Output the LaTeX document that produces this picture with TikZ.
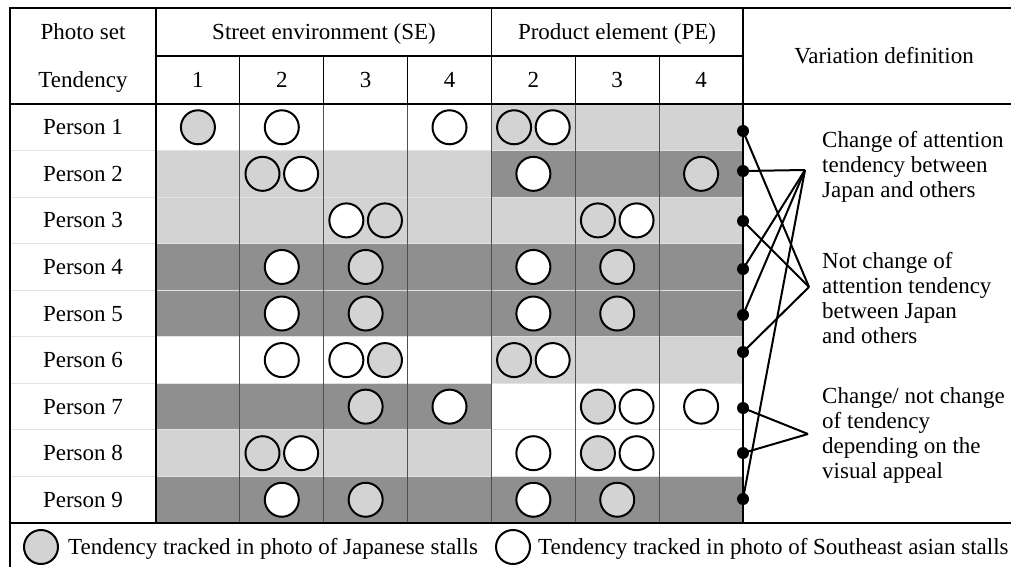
\documentclass[tikz,border=0pt]{standalone}
\usepackage{fontspec}
\setmainfont{Liberation Serif}
\definecolor{lightcell}{HTML}{D3D3D3}
\definecolor{darkcell}{HTML}{8F8F8F}
\definecolor{gridline}{HTML}{505050}
\definecolor{rowline}{HTML}{E2E2E2}

\begin{document}
\begin{tikzpicture}[x=1pt,y=-1pt,font=\fontsize{23}{25}\selectfont]
    \tikzstyle{cell}=[inner sep=0pt,text height=15pt,text depth=0pt]
    \tikzstyle{jp}=[circle,draw,line width=2pt,fill=lightcell,minimum size=34pt,inner sep=0pt]
    \tikzstyle{sea}=[jp,fill=white]
    \tikzstyle{dot}=[circle,fill,inner sep=0pt,minimum size=12pt]
    \tikzstyle{frame}=[line width=2.5pt]
    \tikzstyle{link}=[line width=2pt]
    \tikzstyle{note}=[anchor=west,align=left,inner sep=0pt]

    \useasboundingbox (0,0) rectangle (1011,567);

    \foreach \i/\se/\pe in {1/white/lightcell,2/lightcell/darkcell,3/lightcell/lightcell,
      4/darkcell/darkcell,5/darkcell/darkcell,6/white/lightcell,7/darkcell/white,
      8/lightcell/white,9/darkcell/darkcell}{
      \fill[\se] (156,{104+46.56*(\i-1)}) rectangle (491.4,{104+46.56*\i});
      \fill[\pe] (491.4,{104+46.56*(\i-1)}) rectangle (743,{104+46.56*\i});
    }
    \foreach \i in {2,...,9}
    \draw[rowline,line width=1pt] (10,{104+46.56*(\i-1)}) -- (743,{104+46.56*(\i-1)});
    \foreach \k in {1,...,6}
    \draw[gridline,line width=1pt] ({156+83.86*\k},104) -- ({156+83.86*\k},523);
    \foreach \k in {1,2,3,5,6}
    \draw[line width=1.2pt] ({156+83.86*\k},56) -- ({156+83.86*\k},104);
    \draw[line width=1.2pt] (491.4,8) -- (491.4,104);
    \draw[line width=1.2pt] (156,56) -- (743,56);
    \draw[frame] (10,8) rectangle (1030,590);
    \draw[frame] (156,8) -- (156,523);
    \draw[frame] (743,8) -- (743,523);
    \draw[frame] (10,104) -- (1030,104);
    \draw[frame] (10,523) -- (1030,523);

    \node[cell] (photo) at (83,32) {Photo set};
    \node[cell] (se) at (324,32) {Street environment (SE)};
    \node[cell] (pe) at (617,32) {Product element (PE)};
    \node[cell] (tend) at (83,80) {Tendency};
    \node[cell] (var) at (884,56) {Variation definition};
    \foreach \c/\t in {1/1,2/2,3/3,4/4,5/2,6/3,7/4}
    \node[cell] (t-\c) at ({156+83.86*(\c-0.5)},80) {\t};
    \foreach \i in {1,...,9}
    \node[cell] (p-\i) at (83,{104+46.56*(\i-0.5)}) {Person \i};

    \foreach \r/\c/\dx/\k in {1/1/0/jp,1/2/0/sea,1/4/0/sea,1/5/-19.3/jp,1/5/19.3/sea,
      2/2/-19.3/jp,2/2/19.3/sea,2/5/0/sea,2/7/0/jp,
      3/3/-19.3/sea,3/3/19.3/jp,3/6/-19.3/jp,3/6/19.3/sea,
      4/2/0/sea,4/3/0/jp,4/5/0/sea,4/6/0/jp,
      5/2/0/sea,5/3/0/jp,5/5/0/sea,5/6/0/jp,
      6/2/0/sea,6/3/-19.3/sea,6/3/19.3/jp,6/5/-19.3/jp,6/5/19.3/sea,
      7/3/0/jp,7/4/0/sea,7/6/-19.3/jp,7/6/19.3/sea,7/7/0/sea,
      8/2/-19.3/jp,8/2/19.3/sea,8/5/0/sea,8/6/-19.3/jp,8/6/19.3/sea,
      9/2/0/sea,9/3/0/jp,9/5/0/sea,9/6/0/jp}
    \node[\k] (c-\r-\c-\k) at ({156+83.86*(\c-0.5)+\dx},{104+46.56*(\r-0.5)}) {};

    \foreach \i/\y in {1/131,2/171,3/221,4/269,5/315,6/352,7/408,8/453,9/499}
    \node[dot] (d-\i) at (743,\y) {};

    \coordinate (A) at (805,170);
    \coordinate (B) at (809,287);
    \coordinate (C) at (808,434);

    \foreach \i/\g in {2/A,4/A,5/A,9/A,1/B,3/B,6/B,7/C,8/C}
    \draw[link] (d-\i.center) -- (\g);

    \node[note] (note-A) at (822,167) {Change of attention\\tendency between\\Japan and others};
    \node[note] (note-B) at (822,298) {Not change of\\attention tendency\\between Japan\\and others};
    \node[note] (note-C) at (822,435) {Change/ not change\\of tendency\\depending on the\\visual appeal};

    \node[jp] (key-jp) at (41,547) {};
    \node[note,cell] (key-jp-text) at (68,547) {Tendency tracked in photo of Japanese stalls};
    \node[sea] (key-sea) at (513,547) {};
    \node[note,cell] (key-sea-text) at (538,547) {Tendency tracked in photo of Southeast asian stalls};
  \end{tikzpicture}
\end{document}
